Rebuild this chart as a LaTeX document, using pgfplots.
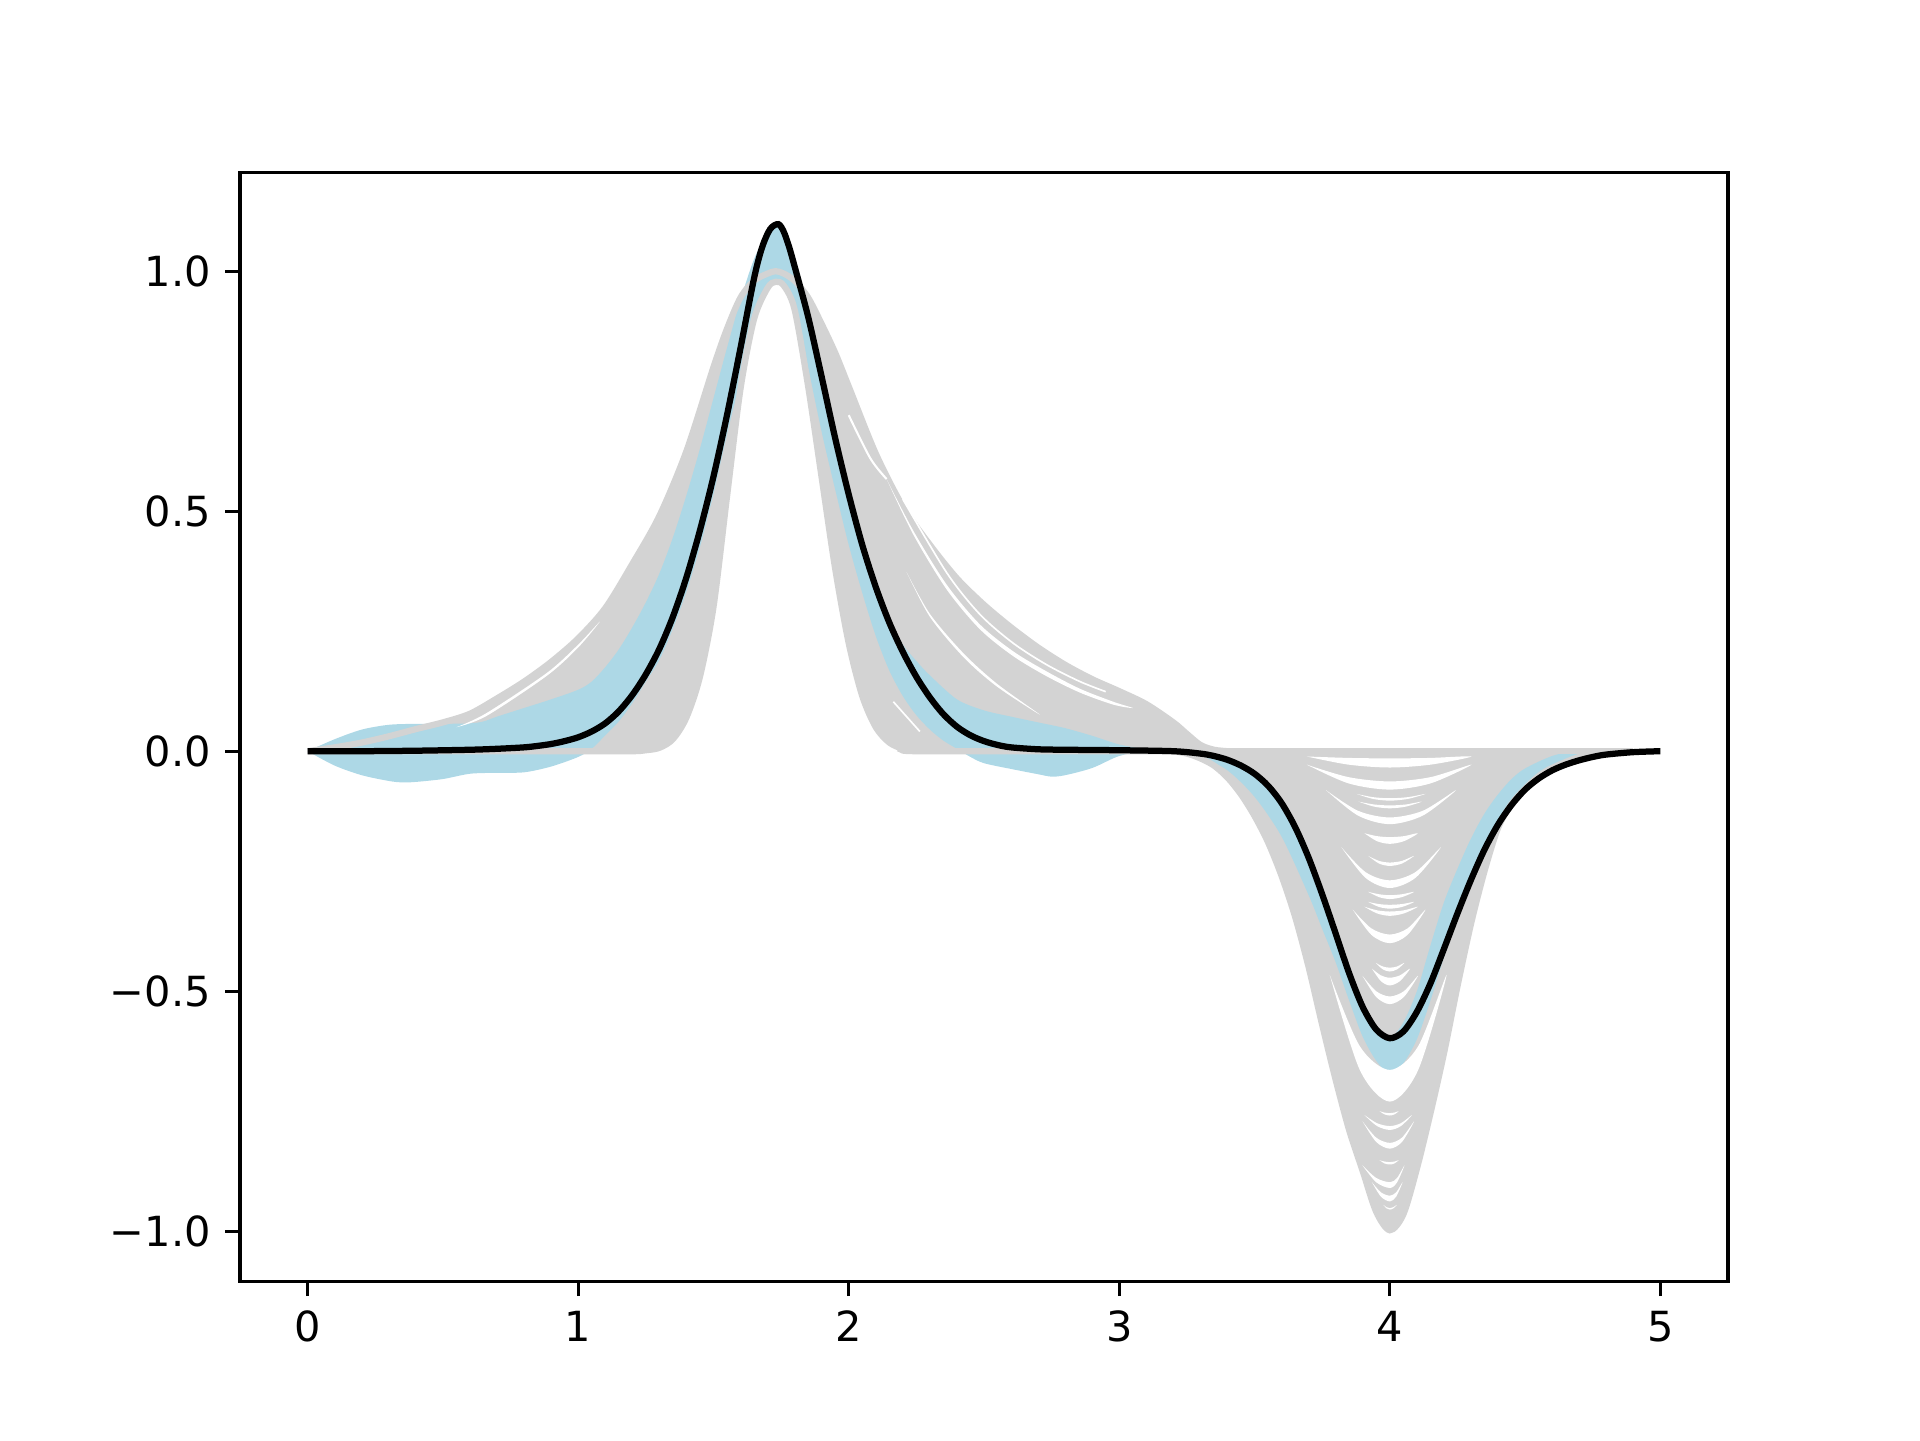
\documentclass[border=0pt]{standalone}
\usepackage{fontspec}
\setmainfont{DejaVu Sans}
\usepackage{pgfplots}
\pgfplotsset{compat=1.18}
\usepgfplotslibrary{fillbetween}
\definecolor{lgrey}{HTML}{D3D3D3}
\definecolor{lblue}{HTML}{ADD8E6}
\pgfplotsset{gap/.style={fill=white, draw=none, smooth, forget plot}}

\begin{document}
\begin{tikzpicture}
\begin{axis}[
  scale only axis, width=4.96in, height=3.696in,
  xmin=-0.25, xmax=5.25, ymin=-1.105, ymax=1.205,
  xtick={0,1,2,3,4,5}, xticklabels={0,1,2,3,4,5},
  ytick={-1,-0.5,0,0.5,1}, yticklabels={−1.0,−0.5,0.0,0.5,1.0},
  tick align=outside, xtick pos=left, ytick pos=left,
  major tick length=3.5bp,
  tick style={black, line width=0.8bp},
  axis line style={line width=0.8bp},
  tick label style={font=\fontsize{10}{12}\selectfont},
]
% grey bundle, peak part: outermost and innermost curves
\addplot[name path=O, lgrey, line width=1.5bp, smooth] coordinates {
(0,0)(0.1,0.008)(0.2,0.018)(0.3,0.031)(0.4,0.046)(0.5,0.06)(0.6,0.078)(0.7,0.11)
(0.8,0.145)(0.9,0.186)(1.0,0.235)(1.1,0.298)(1.2,0.39)(1.3,0.49)(1.4,0.625)(1.5,0.8)
(1.55,0.88)(1.6,0.945)(1.65,0.98)(1.7,0.995)(1.73,1.0)(1.76,0.995)(1.8,0.98)
(1.85,0.945)(1.9,0.89)(1.95,0.83)(2.0,0.76)(2.1,0.62)(2.2,0.51)(2.3,0.43)
(2.4,0.36)(2.5,0.305)(2.6,0.258)(2.7,0.216)(2.8,0.18)(2.9,0.15)(3.0,0.125)
(3.1,0.098)(3.2,0.06)(3.25,0.036)(3.3,0.013)(3.35,0.003)(3.4,0)};
\addplot[name path=I, lgrey, line width=1.5bp, smooth] coordinates {
(0,0)(0.5,0)(1.0,0)(1.2,0)(1.25,0.002)(1.3,0.007)(1.35,0.025)(1.4,0.07)(1.45,0.155)
(1.5,0.3)(1.55,0.53)(1.6,0.755)(1.65,0.9)(1.7,0.965)(1.73,0.978)(1.76,0.97)
(1.8,0.92)(1.85,0.76)(1.9,0.57)(1.95,0.38)(2.0,0.225)(2.05,0.115)(2.1,0.05)
(2.15,0.018)(2.2,0.005)(2.25,0)(2.8,0)(3.4,0)};
\addplot[lgrey] fill between[of=O and I];
% grey bundle, dip part
\addplot[name path=T, lgrey, line width=1.5bp] coordinates {(3.2,0)(4.9,0)};
\addplot[name path=D, lgrey, line width=1.5bp, smooth] coordinates {
(3.2,0)(3.25,-0.005)(3.3,-0.015)(3.35,-0.03)(3.4,-0.055)(3.45,-0.09)(3.5,-0.135)
(3.55,-0.19)(3.6,-0.26)(3.65,-0.345)(3.7,-0.45)(3.75,-0.57)(3.8,-0.685)
(3.85,-0.79)(3.9,-0.875)(3.95,-0.96)(4.0,-0.998)(4.05,-0.965)(4.1,-0.87)
(4.15,-0.755)(4.2,-0.63)(4.25,-0.49)(4.3,-0.36)(4.35,-0.25)(4.4,-0.16)
(4.45,-0.11)(4.5,-0.078)(4.55,-0.052)(4.6,-0.035)(4.7,-0.012)(4.8,-0.003)(4.9,0)};
\addplot[lgrey] fill between[of=T and D];
% gaps between neighbouring grey curves
\addplot[gap] coordinates {(2.14,0.567)(2.239,0.459)(2.362,0.347)(2.485,0.264)(2.608,0.208)(2.732,0.166)(2.855,0.130)(2.978,0.103)(3.05,0.09)(2.978,0.097)(2.855,0.122)(2.732,0.156)(2.608,0.198)(2.485,0.254)(2.362,0.337)(2.239,0.451)(2.14,0.567)};
\addplot[white, line width=0.4bp, smooth, forget plot] coordinates {(2.2,0.525)(2.362,0.372)(2.485,0.285)(2.608,0.225)(2.732,0.18)(2.855,0.145)(2.95,0.124)};
\addplot[gap] coordinates {(2.214,0.373)(2.30,0.286)(2.424,0.204)(2.547,0.141)(2.707,0.076)(2.547,0.135)(2.424,0.196)(2.30,0.280)(2.214,0.373)};
\addplot[gap] coordinates {(0.55,0.05)(0.66,0.079)(0.884,0.163)(1.0,0.222)(1.08,0.27)(1.0,0.216)(0.884,0.157)(0.66,0.073)(0.55,0.05)};
\addplot[white, line width=0.5bp, smooth, forget plot] coordinates {(2.0,0.70)(2.08,0.61)(2.14,0.567)};
\addplot[white, line width=0.4bp, smooth, forget plot] coordinates {(2.165,0.103)(2.263,0.041)};
\addplot[gap] coordinates {(3.693,-0.011)(3.847,-0.028)(4,-0.034)(4.151,-0.028)(4.302,-0.011)(4.151,-0.014)(4,-0.015)(3.847,-0.014)(3.693,-0.011)};
\addplot[gap] coordinates {(3.693,-0.028)(3.847,-0.067)(4,-0.080)(4.151,-0.067)(4.302,-0.028)(4.151,-0.054)(4,-0.063)(3.847,-0.054)(3.693,-0.028)};
\addplot[gap] coordinates {(3.877,-0.089)(3.9385,-0.0995)(4,-0.103)(4.066,-0.0995)(4.132,-0.089)(4.066,-0.0958)(4,-0.098)(3.9385,-0.0958)(3.877,-0.089)};
\addplot[gap] coordinates {(3.884,-0.105)(3.942,-0.1155)(4,-0.119)(4.059,-0.1155)(4.118,-0.105)(4.059,-0.111)(4,-0.113)(3.942,-0.111)(3.884,-0.105)};
\addplot[gap] coordinates {(3.764,-0.081)(3.882,-0.134)(4,-0.152)(4.1225,-0.134)(4.245,-0.081)(4.1225,-0.124)(4,-0.138)(3.882,-0.124)(3.764,-0.081)};
\addplot[gap] coordinates {(3.906,-0.171)(3.953,-0.1875)(4,-0.193)(4.052,-0.1875)(4.104,-0.171)(4.052,-0.177)(4,-0.179)(3.953,-0.177)(3.906,-0.171)};
\addplot[gap] coordinates {(3.92,-0.218)(3.96,-0.234)(4,-0.239)(4.045,-0.234)(4.09,-0.218)(4.045,-0.2285)(4,-0.232)(3.96,-0.2285)(3.92,-0.218)};
\addplot[gap] coordinates {(3.821,-0.2)(3.9105,-0.264)(4,-0.285)(4.0945,-0.264)(4.189,-0.2)(4.0945,-0.252)(4,-0.269)(3.9105,-0.252)(3.821,-0.2)};
\addplot[gap] coordinates {(3.92,-0.293)(3.96,-0.304)(4,-0.308)(4.045,-0.304)(4.09,-0.293)(4.045,-0.298)(4,-0.3)(3.96,-0.298)(3.92,-0.293)};
\addplot[gap] coordinates {(3.92,-0.314)(3.96,-0.3245)(4,-0.328)(4.045,-0.3245)(4.09,-0.314)(4.045,-0.3185)(4,-0.32)(3.96,-0.3185)(3.92,-0.314)};
\addplot[gap] coordinates {(3.906,-0.324)(3.953,-0.338)(4,-0.343)(4.052,-0.338)(4.104,-0.324)(4.052,-0.3315)(4,-0.334)(3.953,-0.3315)(3.906,-0.324)};
\addplot[gap] coordinates {(3.863,-0.33)(3.9315,-0.3825)(4,-0.4)(4.066,-0.3825)(4.132,-0.33)(4.066,-0.369)(4,-0.382)(3.9315,-0.369)(3.863,-0.33)};
\addplot[gap] coordinates {(3.948,-0.441)(3.974,-0.4545)(4,-0.459)(4.027,-0.4545)(4.054,-0.441)(4.027,-0.4485)(4,-0.451)(3.974,-0.4485)(3.948,-0.441)};
\addplot[gap] coordinates {(3.934,-0.453)(3.967,-0.479)(4,-0.488)(4.0375,-0.479)(4.075,-0.453)(4.0375,-0.467)(4,-0.472)(3.967,-0.467)(3.934,-0.453)};
\addplot[gap] coordinates {(3.899,-0.468)(3.9495,-0.512)(4,-0.527)(4.052,-0.512)(4.104,-0.468)(4.052,-0.5)(4,-0.511)(3.9495,-0.5)(3.899,-0.468)};
\addplot[gap] coordinates {(3.778,-0.466)(3.889,-0.664)(4,-0.73)(4.105,-0.664)(4.21,-0.466)(4.105,-0.6145)(4,-0.664)(3.889,-0.6145)(3.778,-0.466)};
\addplot[gap] coordinates {(3.962,-0.75)(3.981,-0.7568)(4,-0.759)(4.0165,-0.7568)(4.033,-0.75)(4.0165,-0.753)(4,-0.754)(3.981,-0.753)(3.962,-0.75)};
\addplot[gap] coordinates {(3.906,-0.758)(3.953,-0.781)(4,-0.789)(4.041,-0.781)(4.082,-0.758)(4.041,-0.775)(4,-0.781)(3.953,-0.775)(3.906,-0.758)};
\addplot[gap] coordinates {(3.899,-0.771)(3.9495,-0.814)(4,-0.828)(4.045,-0.814)(4.09,-0.771)(4.045,-0.805)(4,-0.816)(3.9495,-0.805)(3.899,-0.771)};
\addplot[gap] coordinates {(3.962,-0.852)(3.981,-0.859)(4,-0.861)(4.0165,-0.859)(4.033,-0.852)(4.0165,-0.855)(4,-0.856)(3.981,-0.855)(3.962,-0.852)};
\addplot[gap] coordinates {(3.899,-0.863)(3.9495,-0.898)(4,-0.91)(4.027,-0.898)(4.054,-0.863)(4.027,-0.889)(4,-0.898)(3.9495,-0.889)(3.899,-0.863)};
\addplot[gap] coordinates {(3.934,-0.898)(3.967,-0.928)(4,-0.938)(4.0235,-0.928)(4.047,-0.898)(4.0235,-0.919)(4,-0.926)(3.967,-0.919)(3.934,-0.898)};
\addplot[gap] coordinates {(3.976,-0.945)(3.988,-0.9525)(4,-0.955)(4.013,-0.9525)(4.026,-0.945)(4.013,-0.95)(4,-0.952)(3.988,-0.95)(3.976,-0.945)};
% light blue band
\addplot[name path=U, draw=none, smooth] coordinates {
(0,0)(0.1,0.025)(0.2,0.045)(0.3,0.055)(0.4,0.057)(0.5,0.057)(0.6,0.058)(0.65,0.062)
(0.7,0.072)(0.8,0.09)(0.9,0.108)(1.0,0.128)(1.05,0.145)(1.1,0.175)(1.15,0.212)
(1.2,0.258)(1.25,0.31)(1.3,0.37)(1.35,0.445)(1.4,0.533)(1.45,0.63)(1.5,0.735)
(1.55,0.84)(1.6,0.94)(1.65,1.025)(1.7,1.08)(1.74,1.098)(1.76,1.082)(1.78,1.05)
(1.8,1.01)(1.85,0.905)(1.9,0.78)(1.95,0.652)(2.0,0.535)(2.05,0.43)(2.1,0.344)
(2.15,0.273)(2.2,0.222)(2.25,0.188)(2.3,0.158)(2.4,0.108)(2.5,0.085)(2.6,0.072)
(2.7,0.06)(2.8,0.048)(2.9,0.032)(3.0,0.014)(3.1,0.004)(3.2,0)(3.3,-0.005)
(3.4,-0.018)(3.45,-0.03)(3.5,-0.047)(3.55,-0.072)(3.6,-0.108)(3.65,-0.158)
(3.7,-0.222)(3.75,-0.298)(3.8,-0.38)(3.85,-0.463)(3.9,-0.533)(3.95,-0.58)
(4.0,-0.598)(4.05,-0.565)(4.1,-0.5)(4.15,-0.405)(4.2,-0.315)(4.25,-0.245)
(4.3,-0.182)(4.35,-0.13)(4.4,-0.09)(4.45,-0.058)(4.5,-0.036)(4.6,-0.01)
(4.7,0.002)(4.8,0.003)(4.9,0.001)(5.0,0)};
\addplot[name path=L, draw=none, smooth] coordinates {
(0,0)(0.1,-0.03)(0.2,-0.05)(0.3,-0.062)(0.35,-0.065)(0.4,-0.064)(0.5,-0.058)
(0.6,-0.047)(0.7,-0.045)(0.8,-0.044)(0.9,-0.032)(1.0,-0.012)(1.05,0.005)(1.1,0.033)
(1.15,0.062)(1.2,0.1)(1.25,0.145)(1.3,0.19)(1.35,0.255)(1.4,0.332)(1.45,0.425)
(1.5,0.535)(1.55,0.66)(1.6,0.775)(1.65,0.9)(1.7,0.97)(1.73,0.98)(1.76,0.975)
(1.8,0.93)(1.85,0.8)(1.9,0.665)(1.95,0.545)(2.0,0.43)(2.05,0.33)(2.1,0.24)
(2.15,0.168)(2.2,0.115)(2.25,0.075)(2.3,0.045)(2.35,0.022)(2.4,0.005)(2.45,-0.012)
(2.5,-0.025)(2.6,-0.037)(2.7,-0.048)(2.75,-0.053)(2.8,-0.05)(2.9,-0.035)(3.0,-0.01)
(3.1,0)(3.2,-0.002)(3.3,-0.012)(3.4,-0.04)(3.5,-0.095)(3.6,-0.178)(3.7,-0.3)
(3.75,-0.37)(3.8,-0.44)(3.85,-0.52)(3.9,-0.595)(3.95,-0.645)(4.0,-0.672)(4.05,-0.65)
(4.1,-0.6)(4.15,-0.52)(4.2,-0.43)(4.25,-0.35)(4.3,-0.275)(4.35,-0.21)(4.4,-0.157)
(4.45,-0.115)(4.5,-0.083)(4.6,-0.042)(4.7,-0.02)(4.8,-0.007)(4.9,-0.002)(5.0,0)};
\addplot[lblue] fill between[of=U and L];
% mean curve
\addplot[black, line width=1.5bp, smooth] coordinates {
(0,0)(0.2,0)(0.4,0.001)(0.6,0.003)(0.7,0.005)(0.8,0.008)(0.85,0.011)(0.9,0.015)
(0.95,0.021)(1.0,0.029)(1.05,0.041)(1.1,0.058)(1.15,0.083)(1.2,0.117)(1.25,0.16)
(1.3,0.213)(1.35,0.28)(1.4,0.362)(1.45,0.46)(1.5,0.572)(1.55,0.7)(1.6,0.84)
(1.65,0.985)(1.68,1.05)(1.71,1.088)(1.74,1.098)(1.76,1.082)(1.78,1.05)(1.8,1.01)
(1.85,0.905)(1.9,0.78)(1.95,0.652)(2.0,0.535)(2.05,0.43)(2.1,0.342)(2.15,0.268)
(2.2,0.207)(2.25,0.155)(2.3,0.112)(2.35,0.077)(2.4,0.051)(2.45,0.033)(2.5,0.021)
(2.55,0.013)(2.6,0.008)(2.7,0.004)(2.8,0.003)(3.0,0.002)(3.2,0)(3.3,-0.005)
(3.35,-0.01)(3.4,-0.018)(3.45,-0.03)(3.5,-0.047)(3.55,-0.072)(3.6,-0.108)
(3.65,-0.158)(3.7,-0.222)(3.75,-0.298)(3.8,-0.38)(3.85,-0.463)(3.9,-0.533)
(3.95,-0.58)(4.0,-0.598)(4.05,-0.584)(4.1,-0.543)(4.15,-0.484)(4.2,-0.412)
(4.25,-0.338)(4.3,-0.268)(4.35,-0.205)(4.4,-0.153)(4.45,-0.112)(4.5,-0.08)
(4.55,-0.057)(4.6,-0.04)(4.65,-0.028)(4.7,-0.019)(4.75,-0.012)(4.8,-0.007)
(4.9,-0.002)(5.0,0)};
\end{axis}
\path ([xshift=-0.8in,yshift=-0.528in]current axis.south west) rectangle ++(6.4in,4.8in);
\end{tikzpicture}
\end{document}
